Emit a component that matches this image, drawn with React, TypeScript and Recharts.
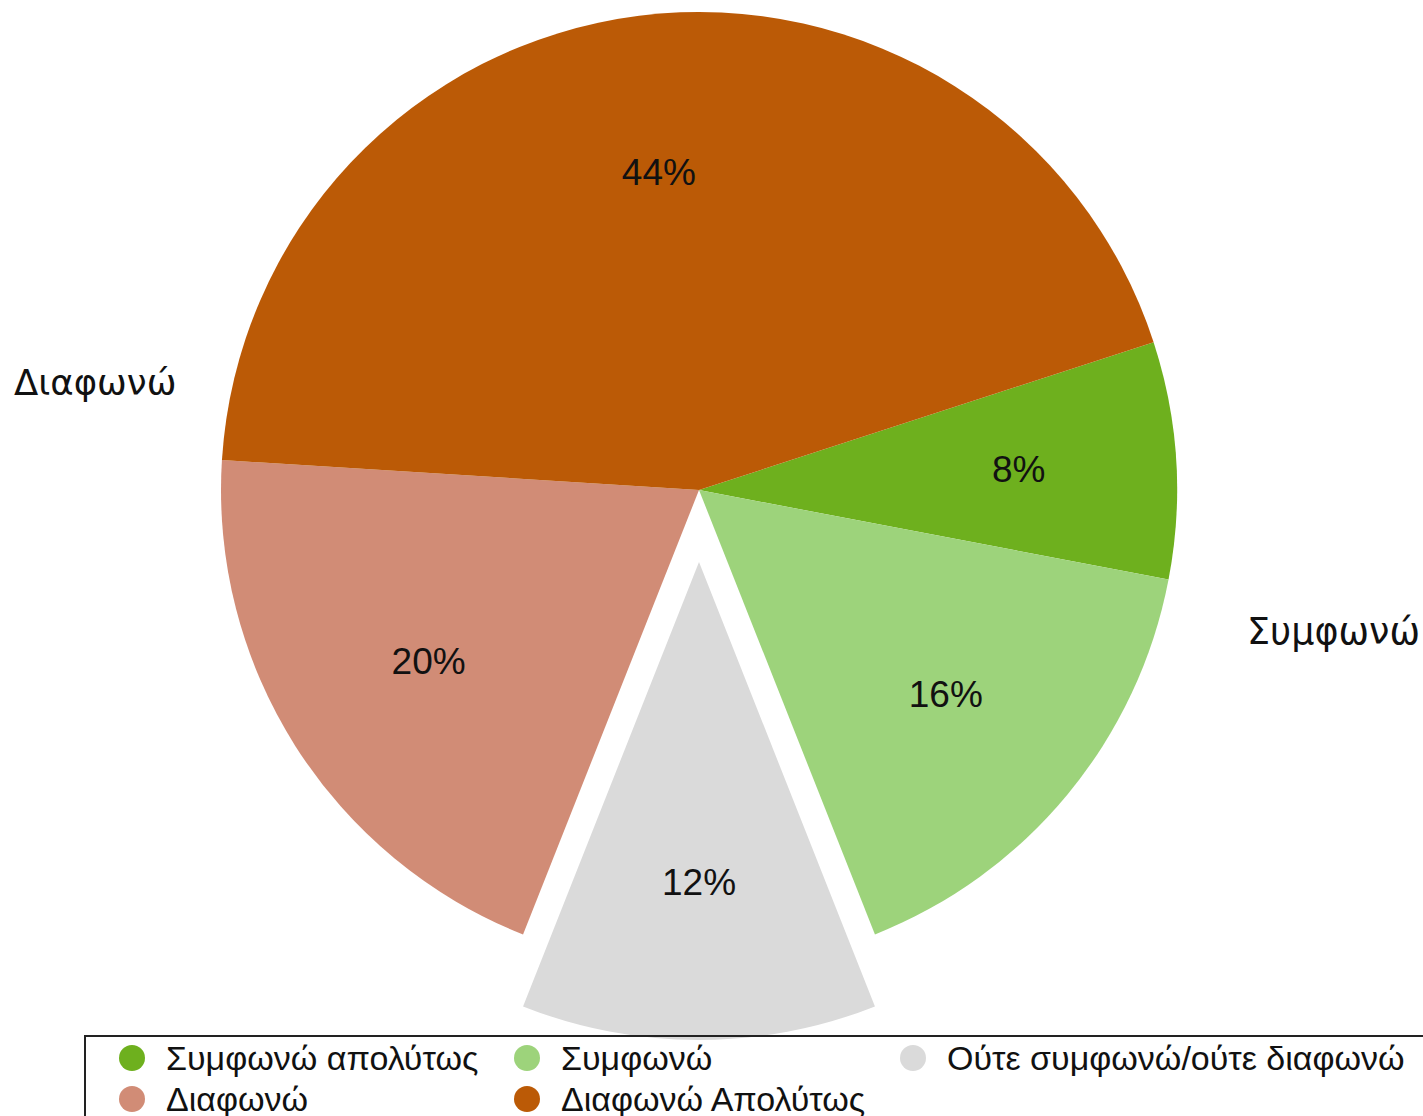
import React from 'react';
import { PieChart, Pie, Cell, Legend } from 'recharts';

const categories = [
  'Συμφωνώ απολύτως',
  'Συμφωνώ',
  'Ούτε συμφωνώ/ούτε διαφωνώ',
  'Διαφωνώ',
  'Διαφωνώ Απολύτως',
];
const shares = [8, 16, 12, 20, 44];
const colors = ['#6eb01e', '#9dd37b', '#dadada', '#d18c76', '#bb5a06'];
const explodedIndex = 2;
const sideLabels = ['Διαφωνώ', 'Συμφωνώ'];

const chartData = categories.map((name, i) => ({ name, value: shares[i] }));

const FONT = '"Liberation Sans", Arial, Helvetica, sans-serif';
const RAD = Math.PI / 180;

function makeLabel(show: (i: number) => boolean) {
  return (props: any) => {
    const { cx, cy, midAngle, outerRadius, index, percent } = props;
    if (!show(index)) return null;
    const r = outerRadius * 0.67;
    const x = cx + r * Math.cos(-midAngle * RAD);
    const y = cy + r * Math.sin(-midAngle * RAD);
    return (
      <text
        x={x}
        y={y}
        textAnchor="middle"
        dominantBaseline="central"
        fill="#111"
        fontFamily={FONT}
        fontSize={37}
      >
        {Math.round(percent * 100)}%
      </text>
    );
  };
}

function LegendBox() {
  return (
    <div
      style={{
        position: 'absolute',
        left: 84,
        top: 1035,
        width: 1400,
        height: 110,
        border: '2px solid #222',
        boxSizing: 'border-box',
        fontFamily: FONT,
        fontSize: 34,
        color: '#111',
      }}
    >
      {categories.map((name, i) => {
        const col = i % 3;
        const row = Math.floor(i / 3);
        const left = [33, 428, 814][col];
        return (
          <div
            key={name}
            style={{
              position: 'absolute',
              left,
              top: 3 + row * 41,
              display: 'flex',
              alignItems: 'center',
              height: 36,
              whiteSpace: 'nowrap',
            }}
          >
            <span
              style={{
                display: 'inline-block',
                width: 26,
                height: 26,
                borderRadius: 13,
                background: colors[i],
                marginRight: 21,
              }}
            />
            {name}
          </div>
        );
      })}
    </div>
  );
}

export default function App() {
  return (
    <div style={{ position: 'absolute', left: 0, top: 0, width: 1423, height: 1116, background: '#fff', overflow: 'hidden' }}>
      <PieChart width={1423} height={1116} margin={{ top: 0, right: 0, bottom: 0, left: 0 }}>
        <Pie
          data={chartData}
          dataKey="value"
          nameKey="name"
          cx={699}
          cy={490}
          outerRadius={478}
          startAngle={18}
          endAngle={-342}
          stroke="none"
          labelLine={false}
          label={makeLabel((i) => i !== explodedIndex)}
          isAnimationActive={false}
        >
          {chartData.map((d, i) => (
            <Cell key={d.name} fill={i === explodedIndex ? 'none' : colors[i]} />
          ))}
        </Pie>
        <Pie
          data={chartData}
          dataKey="value"
          nameKey="name"
          cx={699}
          cy={562}
          outerRadius={478}
          startAngle={18}
          endAngle={-342}
          stroke="none"
          labelLine={false}
          label={makeLabel((i) => i === explodedIndex)}
          isAnimationActive={false}
        >
          {chartData.map((d, i) => (
            <Cell key={d.name} fill={i === explodedIndex ? colors[i] : 'none'} />
          ))}
        </Pie>
        <text x={14} y={395} fontFamily='"DejaVu Sans", sans-serif' fontSize={35.5} fill="#111">
          {sideLabels[0]}
        </text>
        <text x={1247} y={644} fontFamily='"DejaVu Sans", sans-serif' fontSize={36.5} fill="#111">
          {sideLabels[1]}
        </text>
        <Legend content={() => null} />
      </PieChart>
      <LegendBox />
    </div>
  );
}
